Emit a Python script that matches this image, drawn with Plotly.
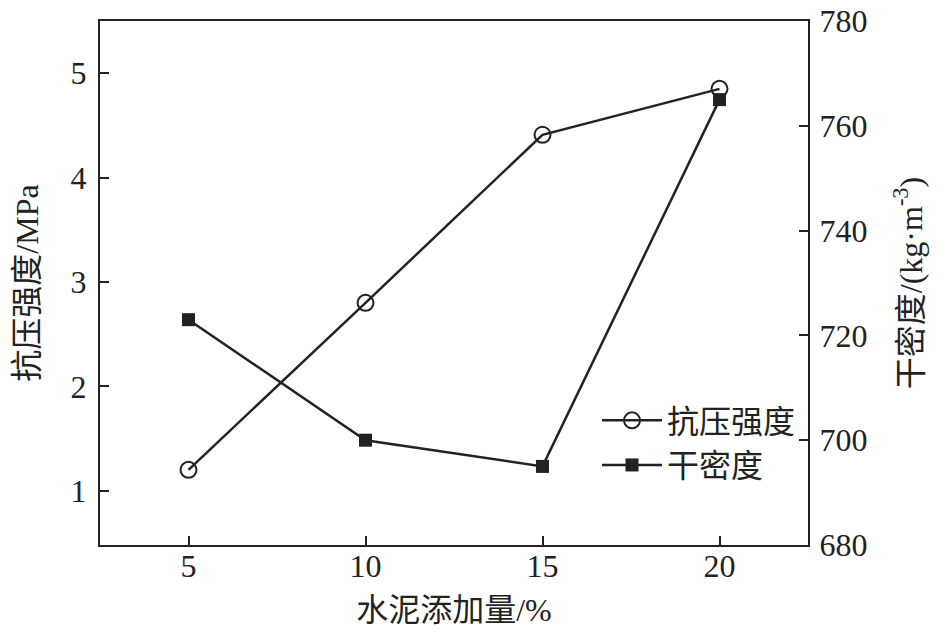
import plotly.graph_objects as go

cement = [5, 10, 15, 20]
strength = [1.2, 2.8, 4.41, 4.85]
density = [723, 700, 695, 765]
x_ticks = [5, 10, 15, 20]
left_ticks = [1, 2, 3, 4, 5]
right_ticks = [680, 700, 720, 740, 760, 780]

FONT = "'Liberation Serif', 'Noto Sans CJK SC', serif"
C = "#222222"

fig = go.Figure()
fig.add_trace(go.Scatter(
    x=cement, y=strength, name="抗压强度", mode="lines+markers",
    line=dict(color=C, width=2.5),
    marker=dict(symbol="circle-open", size=16, color=C, line=dict(width=2, color=C)),
))
fig.add_trace(go.Scatter(
    x=cement, y=density, name="干密度", mode="lines+markers", yaxis="y2",
    line=dict(color=C, width=2.5),
    marker=dict(symbol="square", size=13, color=C),
))

axis_common = dict(ticks="inside", ticklen=9, tickwidth=2, tickcolor=C,
                   showline=True, linecolor=C, linewidth=2, showgrid=False,
                   zeroline=False, automargin=False, ticklabeloverflow="allow",
                   tickfont=dict(size=32, family=FONT, color=C))

fig.update_layout(
    width=945, height=642,
    margin=dict(l=92, r=145, t=13, b=105),
    paper_bgcolor="white", plot_bgcolor="white",
    font=dict(family=FONT, size=32, color=C),
    showlegend=True,
    legend=dict(x=0.702, y=0.29, xanchor="left", yanchor="top",
                font=dict(size=32), itemwidth=60, tracegroupgap=0,
                bgcolor="rgba(0,0,0,0)"),
    xaxis=dict(range=[2.5, 22.5], tickvals=x_ticks, mirror=True, ticklabelstandoff=-8,
               title=dict(text="水泥添加量/%", font=dict(size=32), standoff=15),
               **axis_common),
    yaxis=dict(range=[0.48, 5.5], tickvals=left_ticks, ticklabelstandoff=5,
               title=dict(text="抗压强度/MPa", font=dict(size=32), standoff=22),
               **axis_common),
    yaxis2=dict(range=[680, 780], tickvals=right_ticks, overlaying="y", side="right",
                ticklabelstandoff=3,
                title=dict(text="干密度/(kg·m<sup>-3</sup>)", font=dict(size=32), standoff=33),
                **axis_common),
)

fig.write_html("out.html")
